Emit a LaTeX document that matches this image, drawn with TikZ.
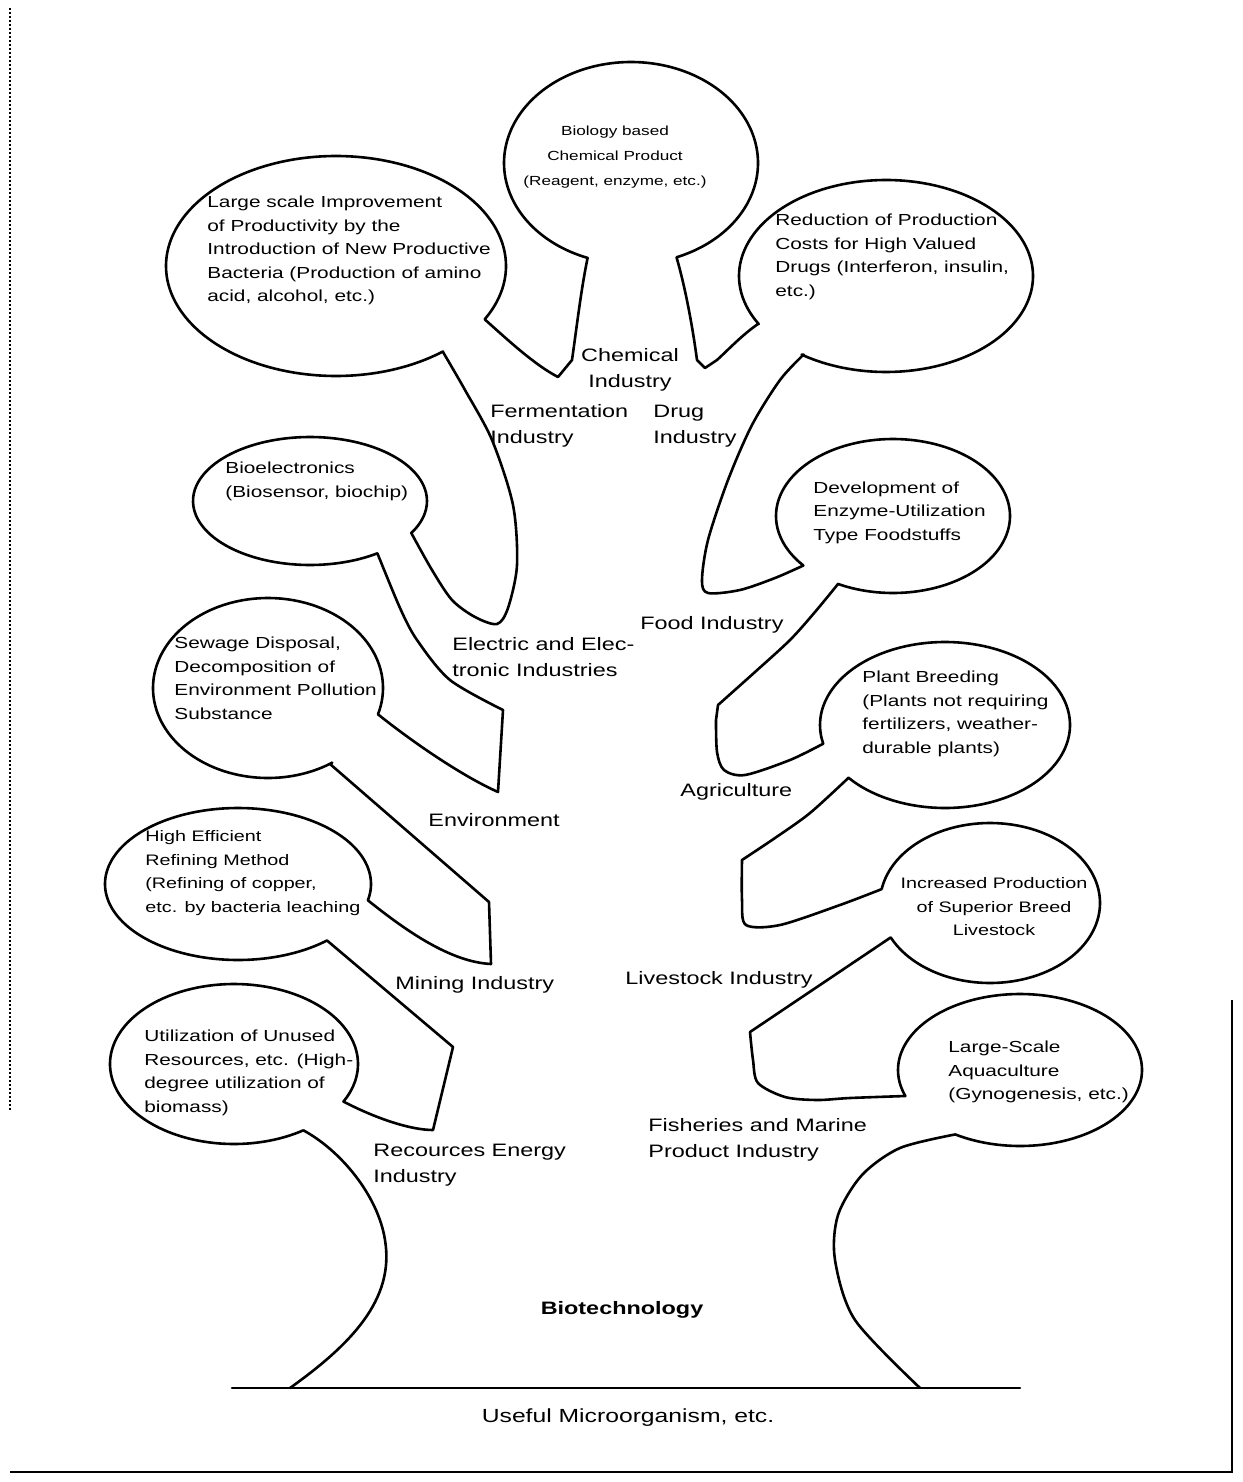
\documentclass[tikz,border=0pt]{standalone}
\usepackage{fontspec}
\setmainfont{Liberation Sans}[FakeStretch=1.3]
\begin{document}
\begin{tikzpicture}[x=0.5pt,y=-0.5pt,
  outline/.style={line width=1.3pt, line join=round, line cap=round},
  btext/.style={font=\fontsize{8}{11.75}\selectfont, align=left, anchor=west, inner sep=0pt},
  stext/.style={font=\fontsize{7.6}{11.75}\selectfont, align=left, anchor=west, inner sep=0pt},
  ctext/.style={font=\fontsize{6.6}{12.5}\selectfont, align=center, anchor=center, inner sep=0pt},
  lbl/.style={font=\fontsize{9}{13}\selectfont, align=left, anchor=west, inner sep=0pt}]
\useasboundingbox (0,0) rectangle (1242,1482);
% frame
\draw[line width=1pt, densely dotted] (10,8) -- (10,1110);
\draw[line width=1pt] (1232,1000) -- (1232,1472) -- (10,1472);
% ground
\draw[outline] (232,1388) -- (1020,1388);
% tree silhouette
\draw[outline]
  (290,1388) .. controls (350,1345) and (395,1300) .. (385,1240)
  .. controls (378,1195) and (340,1150) .. (303.3,1130.3)
  -- plot[domain=56:388, samples=90, smooth, variable=\t] ({234+124*cos(\t)},{1064+80*sin(\t)})
  .. controls (375,1118) and (410,1130) .. (433,1130) -- (453,1047) -- (327,940.5)
  -- plot[domain=48:372.4, samples=90, smooth, variable=\t] ({238+133*cos(\t)},{884+76*sin(\t)})
  .. controls (405,930) and (450,962) .. (491,964) -- (489,902) -- (330,764)
  -- plot[domain=56:377, samples=90, smooth, variable=\t] ({268+115*cos(\t)},{688+90*sin(\t)})
  .. controls (410,740) and (460,775) .. (498,792) -- (503,710)
  -- plot[smooth] coordinates {(503,710) (450,680) (417,640) (400,608) (377.4,553.3)}
  -- plot[domain=54.8:390, samples=90, smooth, variable=\t] ({310+117*cos(\t)},{501+64*sin(\t)})
  -- plot[smooth] coordinates {(411.3,533) (432,570) (452,600) (475,617) (497,624) (508,608) (517,565) (513,505) (492,440) (465,390) (443,352)}
  -- plot[domain=51:389, samples=110, smooth, variable=\t] ({336+170*cos(\t)},{266+110*sin(\t)})
  .. controls (510,342) and (535,365) .. (558,377) -- (572,360)
  .. controls (577,325) and (581,290) .. (587.6,257.9)
  -- plot[domain=110:429, samples=100, smooth, variable=\t] ({631+127*cos(\t)},{163+101*sin(\t)})
  .. controls (686,290) and (693,330) .. (697,360) -- (705,368) -- (717,360)
  .. controls (728,350) and (742,335) .. (758,324)
  -- plot[domain=150:485, samples=100, smooth, variable=\t] ({886+147*cos(\t)},{276+96*sin(\t)})
  -- plot[smooth] coordinates {(803.6,354.6) (780,380) (752,425) (728,480) (708,540) (702,580) (708,593) (740,590) (775,578) (803.4,565.5)}
  -- plot[domain=140:478, samples=90, smooth, variable=\t] ({893+117*cos(\t)},{516+77*sin(\t)})
  -- plot[smooth] coordinates {(838,584) (815,612) (790,640) (755,672) (718,705)} -- (716,720)
  -- plot[smooth] coordinates {(716,720) (717,752) (724,770) (745,775) (790,760) (823.2,743.7)}
  -- plot[domain=167:500.5, samples=90, smooth, variable=\t] ({945+125*cos(\t)},{725+83*sin(\t)})
  -- plot[smooth] coordinates {(848.5,777.8) (810,813) (775,838) (742,860)}
  -- plot[smooth] coordinates {(742,860) (742,900) (746,925) (780,925) (840,905) (881.7,889.1)}
  -- plot[domain=190:514.5, samples=90, smooth, variable=\t] ({990+110*cos(\t)},{903+80*sin(\t)})
  -- (750,1032)
  -- plot[smooth] coordinates {(750,1032) (753,1060) (758,1083) (785,1097) (817,1100) (850,1098) (905.4,1096)}
  -- plot[domain=160:482, samples=90, smooth, variable=\t] ({1020+122*cos(\t)},{1070+76*sin(\t)})
  -- plot[smooth] coordinates {(955.4,1134.4) (900,1148) (862,1175) (838,1215) (835,1260) (855,1320) (920,1388)};
% balloon texts
\node[ctext] (tChem) at (615,157) {Biology based\\Chemical Product\\(Reagent, enzyme, etc.)};
\node[btext] (tLarge) at (207,250.5) {Large scale Improvement\\of Productivity by the\\Introduction of New Productive\\Bacteria (Production of amino\\acid, alcohol, etc.)};
\node[btext] (tDrug) at (775,257) {Reduction of Production\\Costs for High Valued\\Drugs (Interferon, insulin,\\etc.)};
\node[btext] (tBio) at (225,481.5) {Bioelectronics\\(Biosensor, biochip)};
\node[btext] (tSew) at (174,678.5) {Sewage Disposal,\\Decomposition of\\Environment Pollution\\Substance};
\node[btext] (tFood) at (813,512.5) {Development of\\Enzyme-Utilization\\Type Foodstuffs};
\node[btext] (tAgri) at (862,714) {Plant Breeding\\(Plants not requiring\\fertilizers, weather-\\durable plants)};
\node[stext] (tMine) at (145,873) {High Efficient\\Refining Method\\(Refining of copper,\\etc. by bacteria leaching};
\node[stext, align=center, anchor=center] (tLive) at (994,907) {Increased Production\\of Superior Breed\\Livestock};
\node[btext] (tRes) at (144,1073) {Utilization of Unused\\Resources, etc. (High-\\degree utilization of\\biomass)};
\node[btext] (tFish) at (948,1072) {Large-Scale\\Aquaculture\\(Gynogenesis, etc.)};
% industry labels
\node[lbl, align=center, anchor=center] (lChem) at (630,370) {Chemical\\Industry};
\node[lbl] (lFerm) at (490,426) {Fermentation\\Industry};
\node[lbl] (lDrug) at (653,426) {Drug\\Industry};
\node[lbl] (lElec) at (452,657) {Electric and Elec-\\tronic Industries};
\node[lbl] (lFood) at (640,625) {Food Industry};
\node[lbl] (lEnv) at (428,820) {Environment};
\node[lbl] (lAgri) at (680,792) {Agriculture};
\node[lbl] (lMine) at (395,985) {Mining Industry};
\node[lbl] (lLive) at (625,980) {Livestock Industry};
\node[lbl] (lRes) at (373,1165) {Recources Energy\\Industry};
\node[lbl] (lFish) at (648,1140) {Fisheries and Marine\\Product Industry};
\node[font=\bfseries\fontsize{9}{11}\selectfont, inner sep=0pt] (lBio) at (622,1310) {Biotechnology};
\node[font=\fontsize{9.5}{11}\selectfont, inner sep=0pt] (lUse) at (628,1418) {Useful Microorganism, etc.};
\end{tikzpicture}
\end{document}
